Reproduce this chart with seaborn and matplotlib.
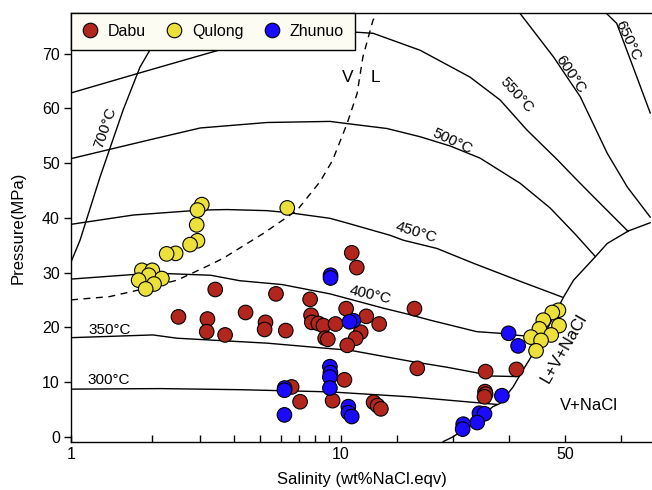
import numpy as np
import pandas as pd
import matplotlib
matplotlib.use("Agg")
import matplotlib.pyplot as plt
import seaborn as sns

# ---------------- data ----------------
dabu_sal = [2.50, 3.42, 3.20, 3.18, 3.72, 4.43, 5.74, 5.25, 5.21, 6.24, 7.68, 7.74, 7.79, 8.24,
            8.60, 8.73, 8.93, 9.54, 10.9, 11.9, 12.8, 14.5, 16.8, 13.5, 12.6, 11.1, 23.1, 23.6,
            35.8, 41.3, 35.7, 35.8, 35.6, 6.56, 7.05, 9.30, 10.6, 15.8, 16.5, 17.1]
dabu_p = [21.9, 26.9, 21.5, 19.2, 18.6, 22.7, 26.1, 20.9, 19.6, 19.4, 25.1, 22.2, 20.9, 20.7,
          20.3, 18.0, 17.8, 20.6, 23.4, 33.6, 30.9, 22.0, 20.6, 19.1, 18.0, 16.7, 23.4, 12.5,
          11.9, 12.3, 8.25, 7.8, 7.3, 9.1, 6.4, 6.6, 10.4, 6.3, 5.7, 5.1]

qulong_sal = [3.05, 2.94, 2.92, 2.94, 2.76, 2.44, 2.26, 6.32, 1.83, 2.00, 1.94, 1.78, 2.17, 2.03,
              1.89, 48.8, 47.7, 46.1, 48.9, 45.4, 43.9, 47.5, 45.7, 44.8]
qulong_p = [42.4, 41.4, 38.7, 35.8, 35.1, 33.5, 33.4, 41.8, 30.4, 30.4, 29.5, 28.6, 28.9, 27.9,
            27.0, 23.1, 22.7, 21.3, 20.3, 19.7, 18.2, 18.6, 17.6, 15.7]

zhunuo_sal = [9.14, 9.14, 12.2, 11.5, 9.09, 9.13, 9.09, 9.09, 6.18, 6.17, 6.17, 11.3, 11.3, 11.9,
              39.9, 41.6, 38.7, 34.7, 35.6, 34.3, 31.8, 31.7]
zhunuo_p = [29.5, 29.0, 21.2, 21.0, 12.8, 11.7, 10.9, 8.9, 8.9, 8.5, 4.0, 5.5, 4.4, 3.7,
            18.9, 16.6, 7.5, 4.3, 4.2, 2.6, 2.3, 1.4]

groups = ["Dabu", "Qulong", "Zhunuo"]
group_colors = ["#b3261e", "#ece03a", "#1a0aff"]

# isotherms (salinity wt%, pressure MPa)
t300_x = [1, 2.14, 4.22, 9.1, 22.3, 37.9]
t300_y = [8.7, 8.8, 8.6, 8.2, 7.3, 5.9]
t350_x = [1, 2.01, 2.47, 3.19, 5.32, 9.1, 11.6, 22.3, 28.9, 34.1, 36.6, 41.25]
t350_y = [18.1, 18.6, 18.0, 17.7, 17.1, 16.1, 15.8, 13.8, 12.7, 11.7, 11.1, 11.0]
t400_x = [1, 2.01, 3.29, 4.22, 6.05, 9.1, 17.5, 22.3, 25.9, 34.2, 38.4, 40.7, 45.5]
t400_y = [28.8, 29.9, 29.5, 28.5, 27.8, 26.1, 23.5, 22.3, 21.3, 19.2, 18.9, 18.6, 18.2]
t450_x = [1, 1.70, 3.01, 3.77, 5.32, 6.47, 9.1, 11.2, 18.75, 21.1, 27.1, 33.6, 41.96, 49.5]
t450_y = [38.8, 40.5, 41.4, 41.5, 41.3, 40.9, 39.9, 39.0, 36.8, 35.9, 34.4, 31.7, 28.4, 25.5]
t500_x = [1, 1.98, 3.01, 5.32, 9.1, 11.07, 18.2, 24.1, 29.5, 34.8, 41.96, 47.3, 51.8, 55.4]
t500_y = [50.8, 54.3, 56.4, 57.4, 57.6, 57.2, 56.3, 54.8, 53.1, 50.9, 46.3, 41.8, 37.0, 32.9]
t550_x = [1, 1.96, 3.88, 5.94, 8.36, 12.5, 15.7, 24.1, 33.0, 38.4, 43.2, 48.6, 52.1, 55.0, 61.25]
t550_y = [62.8, 67.0, 71.2, 72.8, 73.6, 73.9, 73.7, 70.6, 65.7, 61.5, 56.0, 50.6, 46.9, 43.9, 37.5]
t600_x = [41.96, 47.9, 52.7, 57.5, 61.1, 65.2]
t600_y = [77.3, 69.4, 62.1, 51.8, 45.6, 40.1]
t650_x = [57.4, 59.2, 62.1, 65.2]
t650_y = [77.3, 75.5, 67.6, 59.1]
t700_x = [1, 1.08, 1.28, 1.56, 1.80, 1.99, 2.2]
t700_y = [31.9, 35.9, 47.4, 59.7, 67.5, 71.2, 77.4]

# L+V+NaCl boundary
halite_x = [28.2, 30.0, 33.0, 37.1, 38.4, 40.7, 42.3, 44.1, 46.7, 49.7, 51.5, 55.4, 57.5, 61.3, 65.2]
halite_y = [-0.9, 0.0, 2.1, 5.5, 6.1, 9.1, 11.9, 14.9, 19.5, 25.5, 28.6, 32.9, 35.3, 37.6, 39.1]

# V / L critical curve (dashed)
crit_x = [1, 1.39, 1.85, 2.47, 3.27, 3.66, 5.14, 6.88, 8.36, 9.3, 11.07, 12.86, 13.9, 15.7, 16.4]
crit_y = [25.0, 25.6, 27.0, 28.6, 31.4, 32.6, 37.1, 41.4, 46.6, 50.5, 57.2, 62.7, 69.4, 76.1, 77.3]

# ---------------- scale: log below 10 wt%, linear above ----------------
K = 5.6 / 270.0


def fwd(x):
    x = np.asarray(x, dtype=float)
    with np.errstate(all="ignore"):
        lo = np.log10(np.clip(x, 1e-6, None))
    return np.where(x <= 10, lo, 1 + (x - 10) * K)


def inv(y):
    y = np.asarray(y, dtype=float)
    with np.errstate(all="ignore"):
        lo = 10 ** np.clip(y, -6, 1)
    return np.where(y <= 1, lo, 10 + (y - 1) / K)


sns.set_theme(style="ticks")
plt.rcParams["font.family"] = ["Liberation Sans", "DejaVu Sans"]
plt.rcParams["text.color"] = "black"
plt.rcParams["axes.labelcolor"] = "black"
plt.rcParams["xtick.color"] = "black"
plt.rcParams["ytick.color"] = "black"

df = pd.DataFrame({
    "sal": dabu_sal + qulong_sal + zhunuo_sal,
    "P": dabu_p + qulong_p + zhunuo_p,
    "group": [groups[0]] * len(dabu_sal) + [groups[1]] * len(qulong_sal) + [groups[2]] * len(zhunuo_sal),
})

fig = plt.figure(figsize=(6.52, 4.90), dpi=100)
ax = fig.add_axes([71 / 652, (490 - 441.7) / 490, 1 - 71 / 652, (441.7 - 13) / 490])
ax.set_xscale("function", functions=(fwd, inv))

lc = "black"
lw = 1.0
for xs, ys in [(t300_x, t300_y), (t350_x, t350_y), (t400_x, t400_y), (t450_x, t450_y),
               (t500_x, t500_y), (t550_x, t550_y), (t600_x, t600_y), (t650_x, t650_y),
               (t700_x, t700_y), (halite_x, halite_y)]:
    sns.lineplot(x=xs, y=ys, ax=ax, color=lc, lw=lw, sort=False, estimator=None, zorder=2)
sns.lineplot(x=crit_x, y=crit_y, ax=ax, color=lc, lw=1.0, sort=False, estimator=None,
             linestyle=(0, (5, 4)), zorder=2)

sns.scatterplot(data=df, x="sal", y="P", hue="group", hue_order=groups,
                palette=group_colors, s=110, edgecolor="black", linewidth=0.8,
                ax=ax, zorder=3)

ax.set_xlim(1, 65.5)
ax.set_ylim(-0.9, 77.4)

ax.set_xticks([1, 10, 50])
ax.set_xticklabels(["1", "10", "50"])
ax.set_xticks([2, 3, 4, 5, 6, 7, 8, 9, 20, 30, 40, 60], minor=True)
ax.set_yticks([0, 10, 20, 30, 40, 50, 60, 70])
ax.tick_params(axis="x", which="both", direction="in", length=5, width=1, labelsize=11.5, pad=4, colors="black")
ax.tick_params(axis="y", which="both", direction="out", length=5, width=1, labelsize=11.5, pad=3, colors="black")
ax.tick_params(axis="x", which="minor", labelbottom=False)

for s in ["left", "bottom", "top"]:
    ax.spines[s].set_color("black")
    ax.spines[s].set_linewidth(1.0)
ax.spines["right"].set_visible(False)

ax.set_xlabel("Salinity (wt%NaCl.eqv)", fontsize=12, labelpad=7, color="black")
ax.set_ylabel("Pressure(MPa)", fontsize=12, labelpad=12, color="black")

fs = 11
kw = dict(ha="center", va="center", fontsize=fs, rotation_mode="anchor", color="black")
ax.text(1.34, 56.5, "700°C", rotation=71, **kw)
ax.text(41.4, 62.4, "550°C", rotation=-48, **kw)
ax.text(50.9, 66.2, "600°C", rotation=-56, **kw)
ax.text(61.25, 72.3, "650°C", rotation=-65, **kw)
ax.text(29.8, 53.9, "500°C", rotation=-25, **kw)
ax.text(23.4, 37.3, "450°C", rotation=-17, **kw)
ax.text(15.2, 25.9, "400°C", rotation=-13, **kw)
ax.text(1.39, 19.5, "350°C", **kw)
ax.text(1.375, 10.35, "300°C", **kw)
ax.text(11.1, 65.7, "V", ha="center", va="center", fontsize=12.5, color="black")
ax.text(16.2, 65.7, "L", ha="center", va="center", fontsize=12.5, color="black")
kw12 = dict(kw, fontsize=12)
ax.text(49.7, 16.1, "L+V+NaCl", rotation=60, **kw12)
ax.text(54.2, 5.7, "V+NaCl", **kw12)

handles, labels = ax.get_legend_handles_labels()
leg = ax.legend(handles, labels, loc="upper left", ncol=3, borderaxespad=0, frameon=True,
                fancybox=False, edgecolor="black", facecolor="#fcfcf3", framealpha=1,
                fontsize=11.5, handlelength=1.0, handletextpad=0.6, columnspacing=1.3,
                borderpad=0.68, markerscale=1.0)
leg.get_frame().set_linewidth(1.0)
for t in leg.get_texts():
    t.set_color("black")
leg.set_zorder(5)

fig.savefig("out.png", dpi=100)
